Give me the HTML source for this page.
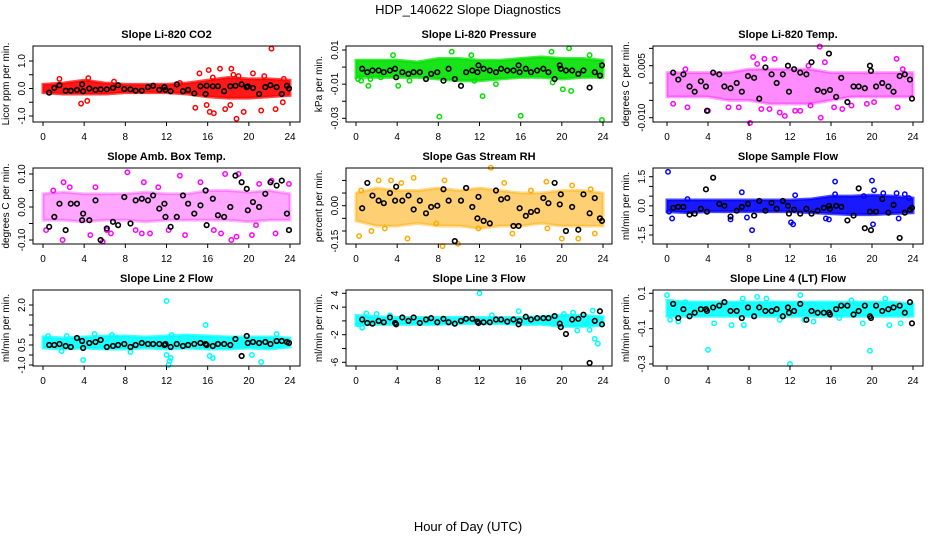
<!DOCTYPE html>
<html><head><meta charset="utf-8"><style>
body{margin:0;background:#fff;}
svg text{font-family:"Liberation Sans",sans-serif;}
</style></head><body>
<svg id="c" width="936" height="540" xmlns="http://www.w3.org/2000/svg">
<text x="468" y="14" text-anchor="middle" font-size="13">HDP_140622  Slope Diagnostics</text>
<text x="468" y="531" text-anchor="middle" font-size="13">Hour of Day (UTC)</text>
</svg>
<script>
const xTicks=[0,4,8,12,16,20,24];
const titles=["Slope Li-820 CO2","Slope Li-820 Pressure","Slope Li-820 Temp.","Slope Amb. Box Temp.","Slope Gas Stream RH","Slope Sample Flow","Slope Line 2 Flow","Slope Line 3 Flow","Slope Line 4 (LT) Flow"];
const yTitles=["Licor ppm per min.","kPa per min.","degrees C per min.","degrees C per min.","percent per min.","ml/min per min.","ml/min per min.","ml/min per min.","ml/min per min."];
const yTickVals=[[-1,-0.5,0,0.5,1],[-0.03,-0.02,-0.01,0,0.01],[-0.01,-0.005,0,0.005,0.01],[-0.1,-0.05,0,0.05,0.1],[-0.1,-0.05,0,0.05,0.1],[-1.5,-1,-0.5,0,0.5,1,1.5],[-1,-0.5,0,0.5,1,1.5,2],[-6,-4,-2,0,2,4],[-0.3,-0.2,-0.1,0,0.1]];
const yTickLabels=[["-1.0","","0.0","","1.0"],["-0.03","","-0.01","","0.01"],["-0.010","","","0.005",""],["-0.10","","0.00","","0.10"],["","","0.00","",""],["-1.5","","","0.0","","","1.5"],["-1.0","","0.5","","","","2.0"],["-6","","-2","","2","4"],["-0.3","","-0.1","","0.1"]];
const bandX=[0,2,4,6,8,10,12,14,16,18,20,22,24];
const bandLo=[[-0.15,-0.2,-0.2,-0.2,-0.15,-0.15,-0.15,-0.2,-0.3,-0.35,-0.35,-0.3,-0.25],[-0.006,-0.006,-0.006,-0.006,-0.007,-0.008,-0.008,-0.007,-0.006,-0.006,-0.007,-0.006,-0.006],[-0.004,-0.004,-0.004,-0.005,-0.005,-0.006,-0.006,-0.006,-0.005,-0.004,-0.004,-0.004,-0.004],[-0.04,-0.04,-0.045,-0.04,-0.04,-0.045,-0.04,-0.04,-0.04,-0.04,-0.045,-0.04,-0.04],[-0.06,-0.08,-0.08,-0.07,-0.08,-0.08,-0.09,-0.08,-0.08,-0.07,-0.08,-0.08,-0.08],[-0.3,-0.35,-0.3,-0.3,-0.3,-0.3,-0.3,-0.35,-0.4,-0.45,-0.45,-0.4,-0.35],[-0.15,-0.2,-0.15,-0.2,-0.2,-0.15,-0.2,-0.15,-0.2,-0.2,-0.15,-0.2,-0.1],[-0.6,-0.5,-0.5,-0.5,-0.5,-0.4,-0.4,-0.4,-0.5,-0.5,-0.8,-0.8,-0.6],[-0.03,-0.03,-0.03,-0.03,-0.03,-0.03,-0.03,-0.03,-0.03,-0.03,-0.03,-0.03,-0.03]];
const bandHi=[[0.15,0.2,0.3,0.2,0.15,0.15,0.15,0.2,0.3,0.4,0.35,0.35,0.3],[0.004,0.004,0.004,0.003,0.005,0.005,0.004,0.004,0.005,0.006,0.005,0.005,0.004],[0.003,0.003,0.003,0.003,0.004,0.004,0.004,0.004,0.003,0.003,0.003,0.003,0.003],[0.04,0.045,0.04,0.04,0.04,0.045,0.04,0.04,0.05,0.05,0.045,0.05,0.04],[0.05,0.07,0.06,0.06,0.07,0.06,0.07,0.06,0.05,0.05,0.06,0.06,0.05],[0.3,0.3,0.3,0.3,0.3,0.3,0.3,0.35,0.5,0.5,0.55,0.5,0.4],[0.4,0.35,0.4,0.45,0.45,0.4,0.45,0.5,0.45,0.4,0.4,0.4,0.35],[0.8,0.6,0.5,0.5,0.5,0.5,0.5,0.5,0.5,0.6,0.8,0.8,0.6],[0.06,0.05,0.05,0.05,0.05,0.05,0.05,0.05,0.05,0.05,0.05,0.05,0.04]];
const outX=[[3.7,4.3,4.4,1.6,14.8,15.2,15.9,16.1,16.2,16.6,17.2,17.7,18.2,18.3,18.8,19.5,20.4,21.2,22.2,22.6,23.4,23.3,18.5,16.5,19.0,21.5,6.9,13.3],[0.2,0.5,1.2,1.4,2.4,3.6,4.1,5.2,8.1,9.3,11.2,11.5,12.3,13.6,16,19.1,19,20.1,20.7,20.9,22.7,23.9,6.8,9.7],[0.6,2,4,6,7,8.1,8.4,9.2,9.5,10.5,11,11.5,12.5,13,14.9,15,15.4,16.3,17.1,19.5,20.2,22.4,22.5,1.8,13.8,18,10,8.8,14,23],[0.3,1,1.9,2,2.6,4.6,5.1,5.8,6.2,6.6,8.2,9,9.6,9.8,10.4,11.2,12.2,13.3,13.8,15.3,16.6,17.3,17.7,18.3,18.8,19,20.3,20.7,22.2,22.6,23.9,21],[0.3,0.5,1.5,2.2,3.4,4.4,5,5.6,7.8,8.4,8.6,9.9,13.1,11.9,14.4,15.2,18.5,18.6,21,21.6,22.8,23.2,20,2.8,17],[0.1,0.2,0.5,6.2,7.3,7.8,8.3,12.1,12.3,12.5,15.5,15.8,16.4,16.4,20,20.1,20.2,21.1,22.4,22.6,23.2,23.6,19.2,2],[0.5,2.3,3.9,5,8.5,12,12,12.2,12.3,12.4,12.5,15.8,16.2,16.5,21.2,20.3,22.7,6.7,1.8],[0.2,0.6,1.0,2.0,3.3,12,13.2,15.8,20.2,21.5,21.1,22.7,23,23.2,23.5,22.4],[0,0.3,1.1,4,4.6,6.3,7.4,7.5,8.8,9.7,11,12,13,13.4,14.3,16.8,19.8,19.1,21.3,21.7,22.8,1.8,18]];
const outY=[[-0.55,-0.45,0.38,0.35,-0.7,0.55,-0.6,0.67,-0.85,-0.9,0.72,-0.75,-0.6,0.72,-1.1,-0.85,0.55,-0.8,1.45,-0.75,0.35,-0.5,0.5,0.4,0.45,0.45,0.25,0.2],[-0.007,-0.008,-0.011,-0.007,-0.006,0.007,-0.011,-0.008,-0.029,0.009,0.007,-0.008,-0.017,-0.01,-0.0285,-0.009,0.009,-0.013,0.011,-0.014,0.007,-0.031,-0.007,-0.007],[-0.006,-0.007,-0.008,-0.007,-0.007,-0.0115,0.0075,-0.0075,0.007,0.007,-0.0085,-0.0095,-0.008,-0.008,0.0105,-0.01,0.006,-0.007,-0.0075,-0.006,-0.0055,0.007,-0.007,0.004,0.005,-0.0065,-0.0075,0.0055,-0.0065,0.004],[-0.07,0.05,-0.1,0.075,0.06,-0.085,0.06,-0.105,-0.07,-0.08,0.105,-0.07,-0.08,0.075,-0.08,0.06,-0.07,0.095,-0.085,0.075,-0.07,-0.08,0.1,-0.1,-0.09,0.1,-0.085,-0.055,0.08,-0.08,0.07,0.07],[-0.12,0.06,-0.1,0.1,0.1,0.09,-0.13,0.11,-0.07,-0.16,0.1,-0.15,0.15,-0.09,0.09,-0.11,0.095,-0.09,0.08,-0.13,0.065,-0.11,-0.13,-0.09,0.06],[1.75,-0.3,-0.65,-0.7,0.7,-0.6,-1.25,-0.85,-0.95,0.55,-0.65,-0.7,1.25,0.6,1.3,-0.95,0.8,0.65,0.65,-0.65,0.6,0.4,0.5,0.35],[0.45,0.45,-0.75,0.55,-0.35,2.2,-0.5,-1.0,-0.8,-0.65,0.5,1.0,-0.55,-0.65,-0.85,-0.5,0.55,0.5,-0.3],[-0.5,-1.0,1.1,1.0,0.8,4,0.8,1.4,1.0,-1.4,1.2,-1.3,1.5,-2.6,-3.3,-0.5],[0.09,-0.05,-0.06,-0.22,-0.07,-0.08,0.07,-0.08,0.08,0.07,-0.05,-0.3,0.09,-0.05,-0.06,-0.04,-0.225,-0.07,0.07,-0.08,-0.07,0.05,0.06]];
const blackX=[0.6,1.1,1.6,2.2,2.7,3.3,3.8,3.9,4.5,5.1,5.6,6.2,6.8,7.3,7.9,8.5,9.0,9.6,10.2,10.7,11.3,11.8,11.9,12.4,13.0,13.6,14.1,14.7,15.3,15.8,15.9,16.5,17.0,17.6,18.2,18.7,19.3,19.8,19.9,20.4,21.0,21.6,22.1,22.7,23.2,23.7,23.9];
const blackY=[[-0.15,0.02,0.12,-0.08,-0.08,-0.05,0.15,-0.1,0,-0.05,-0.03,-0.03,0.02,0.12,-0.02,-0.03,-0.08,-0.08,0.05,0.1,-0.05,0.05,-0.05,-0.1,0.15,-0.1,-0.05,-0.18,0.08,-0.2,0.1,0.08,0.08,-0.1,0.08,0.1,0.15,0.05,0.08,0.02,-0.2,0.05,0.12,0.05,-0.2,0.1,0],[-0.001,-0.003,-0.002,-0.002,-0.003,-0.002,-0.001,-0.006,-0.003,-0.004,-0.003,-0.003,-0.007,-0.004,-0.003,-0.008,-0.001,-0.007,-0.011,-0.003,-0.002,-0.003,0.001,-0.001,-0.002,-0.003,-0.001,-0.002,-0.002,0.001,-0.003,-0.001,-0.003,-0.002,-0.001,-0.003,-0.007,0.001,-0.001,-0.002,-0.002,-0.004,-0.002,-0.012,-0.003,-0.005,0.001],[0.003,0.001,0.0025,-0.001,-0.0025,0.0005,-0.001,-0.008,0.003,0.0025,-0.001,-0.0015,0.0,-0.0025,0.002,0.0015,-0.0045,0.0045,0.0025,0.0,0.0025,0.005,-0.0025,0.004,0.003,0.0025,0.006,-0.002,-0.0025,0.0085,-0.002,-0.004,0.0015,-0.0055,-0.001,-0.001,-0.0015,0.005,0.0035,-0.001,0.0,-0.001,-0.0025,0.002,0.0025,0.001,-0.0045],[-0.06,-0.03,0.01,-0.07,0.01,0.01,-0.04,-0.02,-0.04,0.02,-0.1,-0.065,-0.045,-0.055,0.03,-0.05,0.02,0.025,0.02,0.035,-0.005,0.01,-0.03,-0.06,-0.03,0.035,0.01,-0.02,0.005,0.05,-0.055,0.025,-0.025,-0.03,0,0.095,0.075,0.055,-0.01,0.015,0,0.04,0.075,0.065,0.08,-0.02,-0.07],[-0.01,0.09,0.04,0.02,0.01,0.05,0.02,0.075,0.02,0.04,-0.015,0.02,-0.03,-0.005,0.0,0.065,0.02,-0.14,0.02,0.07,-0.005,-0.05,0.035,-0.06,-0.07,0.06,0.025,0.03,-0.08,-0.08,-0.01,-0.04,-0.025,-0.02,0.03,0.01,0.09,0.005,0.045,-0.1,-0.005,-0.095,0.045,-0.03,0.03,-0.05,-0.06],[-0.1,-0.05,-0.05,-0.45,-0.4,-0.15,0.85,-0.3,1.45,0.1,0.0,-0.55,-0.25,-0.05,0.1,-0.5,0.25,-0.25,0.15,-0.15,0.25,0.0,-0.4,-0.2,-0.4,-0.15,-0.4,-0.25,-0.1,0.0,-0.15,0.0,-0.05,-0.75,-0.5,0.9,-1.15,-0.3,-1.25,-0.3,0.35,-0.35,0.05,-1.65,-0.35,-0.2,-0.1],[0.0,0.0,0.05,-0.05,-0.1,0.35,0.2,-0.15,0.1,0.15,0.25,-0.1,-0.05,0.0,0.05,-0.1,0.0,0.1,0.05,0.05,0.05,0.0,0.05,-0.1,0.05,-0.05,0.0,0.05,0.1,0.05,0.0,-0.05,0.05,0.05,0.0,0.3,-0.55,0.45,0.1,0.15,0.1,0.15,0.05,0.2,0.2,0.15,0.1],[0.2,-0.3,-0.4,0.0,-0.2,0.5,-0.3,-0.5,0.5,0.0,0.5,-0.3,0.2,0.4,-0.2,0.3,-0.2,-0.4,0.0,0.3,0.3,-0.1,-0.3,-0.2,-0.2,0.2,0.2,-0.1,0.2,-0.5,0.0,0.6,0.2,0.4,0.4,0.4,0.7,-0.4,-0.9,-1.9,0.2,0.3,0.9,-6.1,0.0,1.4,-0.5],[0.04,-0.04,0.01,-0.03,-0.01,0.01,0.01,0.0,0.02,0.03,0.05,0.0,0.0,-0.04,0.02,-0.03,0.02,0.0,0.0,0.01,-0.03,0.02,-0.01,0.0,0.04,-0.05,0.0,-0.01,-0.01,-0.01,-0.02,0.01,0.03,0.03,-0.02,0.0,0.03,-0.03,-0.04,0.03,0.0,0.01,0.02,0.03,-0.01,0.05,-0.07]];

// layout (not data)
const colors=["#ff0000","#00e000","#ff00ff","#ff00ff","#ffaa00","#0000ff","#00ffff","#00ffff","#00ffff"];
const bandOp=[0.9,0.9,0.45,0.35,0.55,0.9,0.9,0.9,0.9];
const cols=[{l:33,r:300,x0:43,x1:290},{l:346,r:612,x0:356,x1:603},{l:653,r:923,x0:667,x1:913}];
const rows=[{t:46,b:122},{t:168,b:244},{t:290,b:366}];
const yRef=[[1,61,-1,116],[0.01,50,-0.03,118.3],[0.005,65.7,-0.01,117.7],[0.1,174,-0.1,240],[0,205.7,-0.1,231],[1.5,176.7,-1.5,235],[2,305,-1,365],[4,293.3,-6,362.3],[0.1,293.3,-0.3,364]];
const svg=document.getElementById('c');
const NS='http://www.w3.org/2000/svg';
function mk(tag,attrs,parent){const e=document.createElementNS(NS,tag);for(const k in attrs)e.setAttribute(k,attrs[k]);(parent||svg).appendChild(e);return e;}
for(let p=0;p<9;p++){
  const c=cols[p%3],r=rows[Math.floor(p/3)];
  const g=mk('g',{});
  
  
  const xs=v=>c.x0+(c.x1-c.x0)*v/24;
  const [v1,p1,v2,p2]=yRef[p];
  const ys=v=>p1+(v-v1)*(p2-p1)/(v2-v1);
  const t=mk('text',{x:(c.l+c.r)/2,y:r.t-8,'text-anchor':'middle','font-size':11,'font-weight':'bold'},g);t.textContent=titles[p];
  
  
  const yt=mk('text',{x:0,y:0,'text-anchor':'middle','font-size':10,transform:`translate(${c.l-24},${(r.t+r.b)/2}) rotate(-90)`},g);yt.textContent=yTitles[p];
  
  
  let d='';
  bandX.forEach((x,i)=>{d+=(i?'L':'M')+xs(x)+','+ys(bandHi[p][i]);});
  for(let i=bandX.length-1;i>=0;i--)d+='L'+xs(bandX[i])+','+ys(bandLo[p][i]);
  const band=mk('path',{d:d+'Z',fill:colors[p],'fill-opacity':bandOp[p],stroke:colors[p],'stroke-width':3,'stroke-opacity':bandOp[p]*0.8},g);
  
  
  outX[p].forEach((x,i)=>{
    const pt=mk('circle',{cx:xs(x),cy:ys(outY[p][i]),r:2.2,fill:'none',stroke:colors[p],'stroke-width':1.5},g);
    
    
  });
  blackX.forEach((x,i)=>{
    const pt=mk('circle',{cx:xs(x),cy:ys(blackY[p][i]),r:2.3,fill:'none',stroke:'#000','stroke-width':1.6},g);
    
    
  });
  const box=mk('rect',{x:c.l,y:r.t,width:c.r-c.l,height:r.b-r.t,fill:'none',stroke:'#000','stroke-width':1},g);
  
  
  xTicks.forEach(v=>{
    mk('line',{x1:xs(v),x2:xs(v),y1:r.b,y2:r.b+4,stroke:'#000'},g);
    const tl=mk('text',{x:xs(v),y:r.b+18,'text-anchor':'middle','font-size':10},g);tl.textContent=v;
    
    
  });
  yTickVals[p].forEach((v,i)=>{
    const y=ys(v);
    mk('line',{x1:c.l-4,x2:c.l,y1:y,y2:y,stroke:'#000'},g);
    const lab=yTickLabels[p][i];
    if(lab){const tl=mk('text',{x:0,y:0,'text-anchor':'middle','font-size':10,transform:`translate(${c.l-8},${y}) rotate(-90)`},g);tl.textContent=lab;
      
      }
  });
  if(p===4){const tl=mk('text',{x:0,y:0,'text-anchor':'middle','font-size':10,transform:`translate(${c.l-8},${ys(-0.14)}) rotate(-90)`},g);tl.textContent='-0.15';
    
    }
}
</script>
</body></html>
